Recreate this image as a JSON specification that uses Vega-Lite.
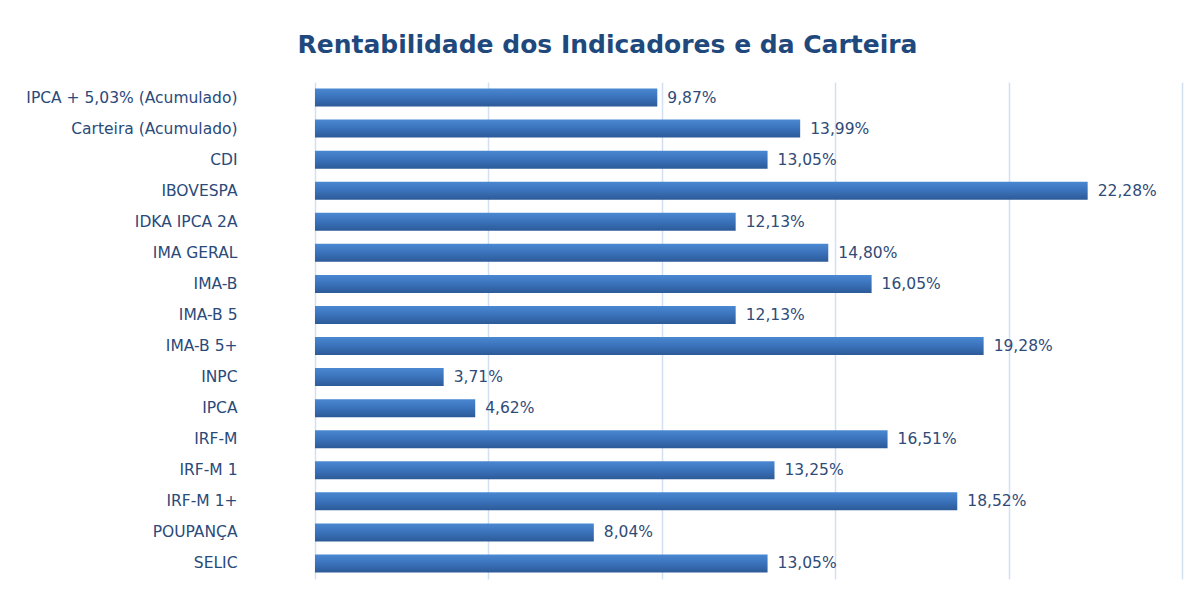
{
  "$schema": "https://vega.github.io/schema/vega-lite/v6.json",
  "autosize": "none",
  "width": 867,
  "height": 497,
  "padding": {"left": 315, "top": 82, "right": 12, "bottom": 11},
  "background": "white",
  "config": {
    "locale": {"number": {"decimal": ",", "thousands": ".", "grouping": [3], "currency": ["R$", ""]}},
    "view": {"stroke": null},
    "font": "DejaVu Sans"
  },
  "title": {
    "text": "Rentabilidade dos Indicadores e da Carteira",
    "anchor": "middle",
    "frame": "group",
    "dx": -141,
    "offset": 24,
    "fontSize": 25,
    "fontWeight": "bold",
    "color": "#1F497D",
    "font": "DejaVu Sans"
  },
  "data": {
    "values": [
      {"indicador": "IPCA + 5,03% (Acumulado)", "rentabilidade": 0.0987},
      {"indicador": "Carteira (Acumulado)", "rentabilidade": 0.1399},
      {"indicador": "CDI", "rentabilidade": 0.1305},
      {"indicador": "IBOVESPA", "rentabilidade": 0.2228},
      {"indicador": "IDKA IPCA 2A", "rentabilidade": 0.1213},
      {"indicador": "IMA GERAL", "rentabilidade": 0.1480},
      {"indicador": "IMA-B", "rentabilidade": 0.1605},
      {"indicador": "IMA-B 5", "rentabilidade": 0.1213},
      {"indicador": "IMA-B 5+", "rentabilidade": 0.1928},
      {"indicador": "INPC", "rentabilidade": 0.0371},
      {"indicador": "IPCA", "rentabilidade": 0.0462},
      {"indicador": "IRF-M", "rentabilidade": 0.1651},
      {"indicador": "IRF-M 1", "rentabilidade": 0.1325},
      {"indicador": "IRF-M 1+", "rentabilidade": 0.1852},
      {"indicador": "POUPANÇA", "rentabilidade": 0.0804},
      {"indicador": "SELIC", "rentabilidade": 0.1305}
    ]
  },
  "encoding": {
    "y": {
      "field": "indicador",
      "type": "nominal",
      "sort": null,
      "scale": {"paddingInner": 0.42, "paddingOuter": 0.21},
      "axis": {
        "title": null,
        "ticks": false,
        "domain": false,
        "labelPadding": 78,
        "labelFontSize": 15.5,
        "labelLimit": 400,
        "labelColor": "#2A4A7A",
        "labelFont": "DejaVu Sans",
        "grid": false
      }
    },
    "x": {
      "field": "rentabilidade",
      "type": "quantitative",
      "scale": {"domain": [0, 0.25], "nice": false},
      "axis": {
        "title": null,
        "labels": false,
        "ticks": false,
        "domain": false,
        "values": [0, 0.05, 0.1, 0.15, 0.2, 0.25],
        "grid": true,
        "gridColor": "#D3E0F1",
        "gridWidth": 1.5
      }
    }
  },
  "layer": [
    {
      "mark": {
        "type": "bar",
        "color": {
          "gradient": "linear",
          "x1": 0, "y1": 0, "x2": 0, "y2": 1,
          "stops": [
            {"offset": 0, "color": "#4A88D2"},
            {"offset": 0.5, "color": "#3A72BA"},
            {"offset": 1, "color": "#2C5A98"}
          ]
        }
      }
    },
    {
      "mark": {"type": "text", "align": "left", "baseline": "middle", "dx": 10, "fontSize": 15.5, "color": "#2F4B78", "font": "DejaVu Sans"},
      "encoding": {
        "text": {"field": "rentabilidade", "type": "quantitative", "format": ".2%"}
      }
    }
  ]
}
